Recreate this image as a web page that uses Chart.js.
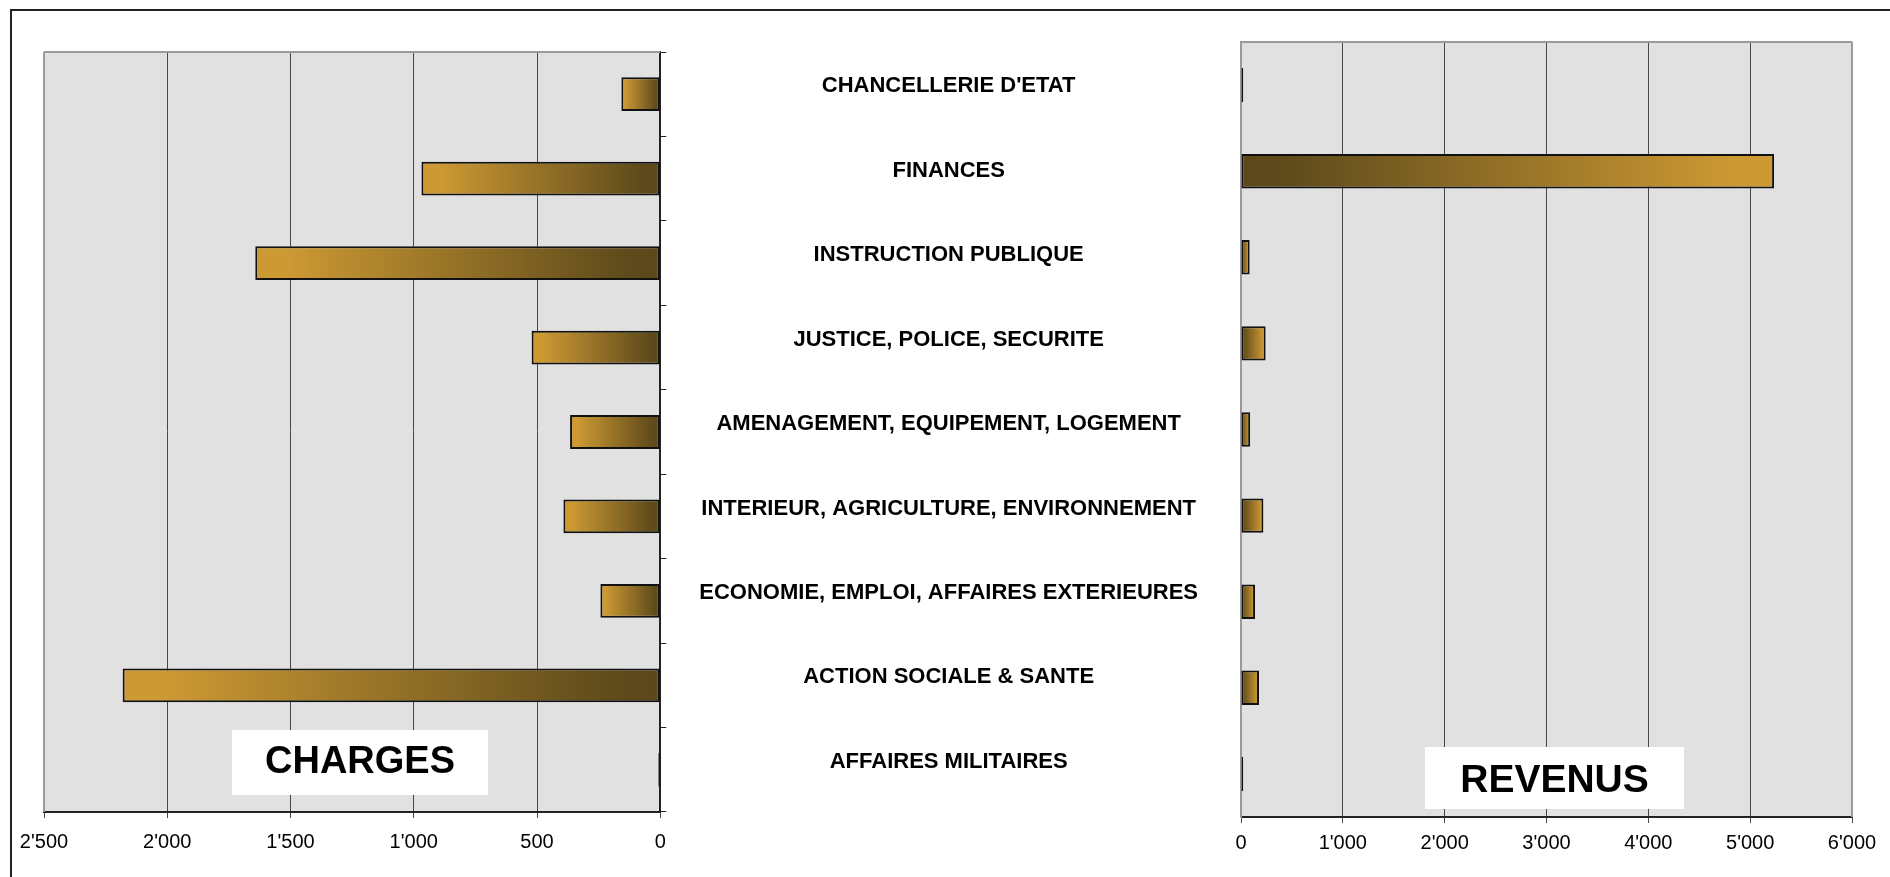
<!DOCTYPE html>
<html>
<head>
<meta charset="utf-8">
<script src="https://cdn.jsdelivr.net/npm/chart.js@4.4.1/dist/chart.umd.min.js"></script>
<style>
html,body{margin:0;padding:0;background:#fff;overflow:hidden;width:1890px;height:877px;}
#frame{position:absolute;left:10px;top:9px;width:1900px;height:900px;border-left:2px solid #222;border-top:2px solid #222;}
canvas{position:absolute;left:0;top:0;}
</style>
</head>
<body>
<div id="frame"></div>
<canvas id="c1" width="1890" height="877"></canvas>
<canvas id="c2" width="1890" height="877"></canvas>
<script>
// ---- data ----
const categories = [
  "CHANCELLERIE D'ETAT",
  "FINANCES",
  "INSTRUCTION PUBLIQUE",
  "JUSTICE, POLICE, SECURITE",
  "AMENAGEMENT, EQUIPEMENT, LOGEMENT",
  "INTERIEUR, AGRICULTURE, ENVIRONNEMENT",
  "ECONOMIE, EMPLOI, AFFAIRES EXTERIEURES",
  "ACTION SOCIALE & SANTE",
  "AFFAIRES MILITAIRES"
];
const charges = [158, 969, 1643, 522, 366, 393, 243, 2181, 8];
const revenus = [22, 5235, 85, 242, 90, 220, 138, 177, 22];
const chargeTickValues = [0, 500, 1000, 1500, 2000, 2500];
const chargeTickLabels = ["0", "500", "1'000", "1'500", "2'000", "2'500"];
const revenueTickValues = [0, 1000, 2000, 3000, 4000, 5000, 6000];
const revenueTickLabels = ["0", "1'000", "2'000", "3'000", "4'000", "5'000", "6'000"];
const panelTitles = ["CHARGES", "REVENUS"];

// ---- styling ----
const FONT = '"Liberation Sans", Arial, Helvetica, sans-serif';
const DARK = '#5B4719', LIGHT = '#CC9933';
const GRID = '#474747', EDGE = '#9A9A9A', AXIS = '#222';

function barGradient(ctx) {
  const chart = ctx.chart;
  const xs = chart.scales.x;
  if (ctx.type !== 'data' || !xs) return '#957229';
  const x0 = xs.getPixelForValue(0), x1 = xs.getPixelForValue(ctx.raw);
  if (!isFinite(x0) || !isFinite(x1) || Math.abs(x1 - x0) < 3) return '#111';
  const g = chart.ctx.createLinearGradient(x0, 0, x1, 0);
  g.addColorStop(0, DARK);
  g.addColorStop(0.08, '#5E4A1B');
  g.addColorStop(0.92, LIGHT);
  g.addColorStop(1, LIGHT);
  return g;
}

const plotDecor = {
  id: 'plotDecor',
  beforeDraw(chart) {
    const {ctx, chartArea: a} = chart;
    ctx.save();
    ctx.fillStyle = '#E1E1E1';
    ctx.fillRect(a.left, a.top, a.right - a.left, a.bottom - a.top);
    ctx.restore();
  },
  afterDatasetsDraw(chart, args, opts) {
    const {ctx, chartArea: a} = chart;
    ctx.save();
    ctx.strokeStyle = EDGE;
    ctx.lineWidth = 2;
    ctx.beginPath();
    ctx.moveTo(a.left, a.top); ctx.lineTo(a.right, a.top);
    if (opts.side === 'left') { ctx.moveTo(a.left, a.top); ctx.lineTo(a.left, a.bottom); }
    else { ctx.moveTo(a.right, a.top); ctx.lineTo(a.right, a.bottom); }
    ctx.stroke();
    const b = opts.box;
    ctx.fillStyle = '#fff';
    ctx.fillRect(b.x, b.y, b.w, b.h);
    ctx.fillStyle = '#000';
    ctx.font = 'bold ' + b.size + 'px ' + FONT;
    ctx.textAlign = 'center';
    ctx.textBaseline = 'middle';
    ctx.fillText(b.text, b.x + b.w / 2, b.y + b.h / 2 + b.dy);
    ctx.restore();
  }
};

const common = {
  responsive: false,
  animation: false,
  indexAxis: 'y',
  events: [],
  plugins: { legend: { display: false }, tooltip: { enabled: false } },
  elements: { bar: { borderWidth: 2, borderColor: '#111', borderSkipped: false } }
};

// ---- CHARGES (left) ----
new Chart(document.getElementById('c1'), {
  type: 'bar',
  data: {
    labels: categories,
    datasets: [{
      data: charges,
      backgroundColor: barGradient,
      barPercentage: 0.4,
      categoryPercentage: 1.0
    }]
  },
  plugins: [plotDecor],
  options: Object.assign({}, common, {
    layout: { padding: { left: 44, top: 52, right: 650, bottom: 15 } },
    scales: {
      x: {
        type: 'linear', position: 'bottom', reverse: true, min: 0, max: 2500,
        afterFit: s => { s.height = 50; },
        ticks: {
          stepSize: 500, color: '#000', padding: 12, maxRotation: 0,
          font: { family: FONT, size: 20 },
          callback: v => chargeTickLabels[chargeTickValues.indexOf(v)]
        },
        grid: { color: GRID, lineWidth: 1, tickLength: 6 },
        border: { color: AXIS, width: 2 }
      },
      y: {
        type: 'category', position: 'right',
        afterFit: s => { s.width = 579.7; },
        ticks: {
          color: '#000', autoSkip: false, crossAlign: 'center', padding: 33, labelOffset: -8,
          font: { family: FONT, size: 22, weight: 'bold' }
        },
        grid: { drawOnChartArea: false, color: AXIS, lineWidth: 1, tickLength: 6 },
        border: { color: AXIS, width: 2 }
      }
    },
    plugins: Object.assign({}, common.plugins, {
      plotDecor: { side: 'left', box: { x: 232, y: 730, w: 256, h: 65, size: 38, dy: 0, text: panelTitles[0] } }
    })
  })
});

// ---- REVENUS (right) ----
new Chart(document.getElementById('c2'), {
  type: 'bar',
  data: {
    labels: categories,
    datasets: [{
      data: revenus,
      backgroundColor: barGradient,
      barPercentage: 0.4,
      categoryPercentage: 1.0
    }]
  },
  plugins: [plotDecor],
  options: Object.assign({}, common, {
    layout: { padding: { left: 1241, top: 42, right: 38, bottom: 10 } },
    scales: {
      x: {
        type: 'linear', position: 'bottom', min: 0, max: 6000,
        afterFit: s => { s.height = 50; },
        ticks: {
          stepSize: 1000, color: '#000', padding: 8, maxRotation: 0,
          font: { family: FONT, size: 20 },
          callback: v => revenueTickLabels[revenueTickValues.indexOf(v)]
        },
        grid: { color: GRID, lineWidth: 1, tickLength: 6 },
        border: { color: AXIS, width: 2 }
      },
      y: {
        type: 'category', position: 'left',
        afterFit: s => { s.width = 0; },
        ticks: { display: false },
        grid: { drawOnChartArea: false, drawTicks: false },
        border: { color: EDGE, width: 2 }
      }
    },
    plugins: Object.assign({}, common.plugins, {
      plotDecor: { side: 'right', box: { x: 1425, y: 747, w: 259, h: 62, size: 39, dy: 3, text: panelTitles[1] } }
    })
  })
});
</script>
</body>
</html>
